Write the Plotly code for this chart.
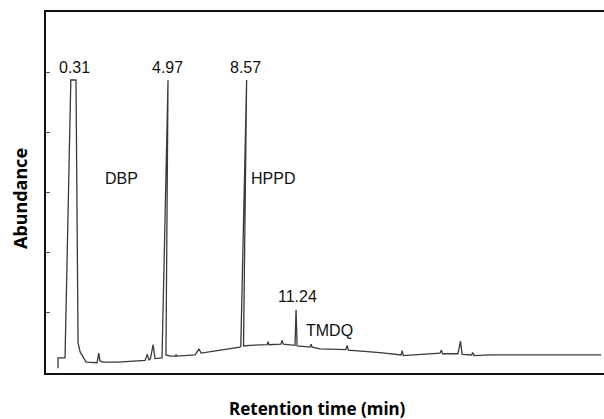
import plotly.graph_objects as go

# Chromatogram trace: retention time (min) vs abundance (arbitrary units)
time_min = [-0.32, -0.32, 0.02, 0.30, 0.55, 0.65, 0.75, 0.84, 0.89, 1.04, 1.57, 1.65, 1.71, 1.86,
            2.58, 3.89, 4.00, 4.08, 4.15, 4.28, 4.37, 4.71, 5.00, 4.90, 5.10, 5.37, 5.39, 5.42,
            6.31, 6.50, 6.60, 7.42, 8.48, 8.52, 8.80, 8.65, 8.97, 9.79, 9.84, 9.88, 10.46,
            10.51, 10.58, 11.14, 11.19, 11.24, 11.87, 11.92, 11.97, 12.35, 13.60, 13.66, 13.72,
            15.25, 16.27, 16.32, 16.38, 18.15, 18.22, 18.27, 18.32, 19.02, 19.14, 19.22, 19.68,
            19.73, 19.80, 20.57, 25.94]
abundance = [0.08, 0.25, 0.25, 4.87, 4.87, 0.50, 0.35, 0.30, 0.25, 0.18, 0.17, 0.33, 0.20, 0.18,
             0.18, 0.21, 0.31, 0.22, 0.24, 0.47, 0.24, 0.25, 4.87, 0.30, 0.28, 0.28, 0.31, 0.28,
             0.30, 0.40, 0.33, 0.37, 0.43, 0.45, 4.87, 0.45, 0.46, 0.47, 0.52, 0.47, 0.48,
             0.54, 0.48, 0.46, 1.05, 0.45, 0.43, 0.48, 0.43, 0.40, 0.39, 0.46, 0.38,
             0.34, 0.30, 0.37, 0.29, 0.33, 0.38, 0.32, 0.32, 0.32, 0.53, 0.31, 0.30,
             0.34, 0.29, 0.30, 0.30]

# Peak / compound labels
label_text = ["0.31", "4.97", "8.57", "11.24", "DBP", "HPPD", "TMDQ"]
label_time = [0.455, 4.98, 8.75, 11.24, 2.73, 10.08, 12.83]
label_abund = [5.07, 5.07, 5.07, 1.27, 3.24, 3.24, 0.70]

y_ticks = [1, 2, 3, 4, 5]

fig = go.Figure()
fig.add_trace(go.Scatter(x=time_min, y=abundance, mode="lines",
                         line=dict(color="#3a3a3a", width=1.3), hoverinfo="skip",
                         showlegend=False))

annotations = []
for t, x, y in zip(label_text, label_time, label_abund):
    annotations.append(dict(x=x, y=y, xref="x", yref="y", text=t, showarrow=False,
                            font=dict(family="Liberation Sans, Arial", size=16, color="#111"),
                            xanchor="center", yanchor="middle"))
annotations.append(dict(x=0.4857, y=-0.097, xref="paper", yref="paper",
                        text="<b>Retention time (min)</b>", showarrow=False,
                        font=dict(family="Noto Sans", size=17, color="#000"),
                        xanchor="center", yanchor="middle"))
annotations.append(dict(x=-0.0466, y=0.4848, xref="paper", yref="paper",
                        text="<b>Abundance</b>", showarrow=False, textangle=-90,
                        font=dict(family="Noto Sans", size=18, color="#000"),
                        xanchor="center", yanchor="middle"))

fig.update_layout(
    width=604, height=419,
    margin=dict(l=46, r=0, t=12, b=46),
    paper_bgcolor="white", plot_bgcolor="white",
    showlegend=False,
    annotations=annotations,
    xaxis=dict(range=[-0.90, 26.08], showgrid=False, zeroline=False,
               showticklabels=False, ticks="", showline=True, linecolor="#111",
               linewidth=2, mirror=True),
    yaxis=dict(range=[0, 6.0], showgrid=False, zeroline=False, showticklabels=False,
               tickvals=y_ticks, ticks="inside", ticklen=4, tickcolor="#555",
               tickwidth=1, showline=True, linecolor="#111", linewidth=2, mirror=False),
)

fig.write_html("out.html")
